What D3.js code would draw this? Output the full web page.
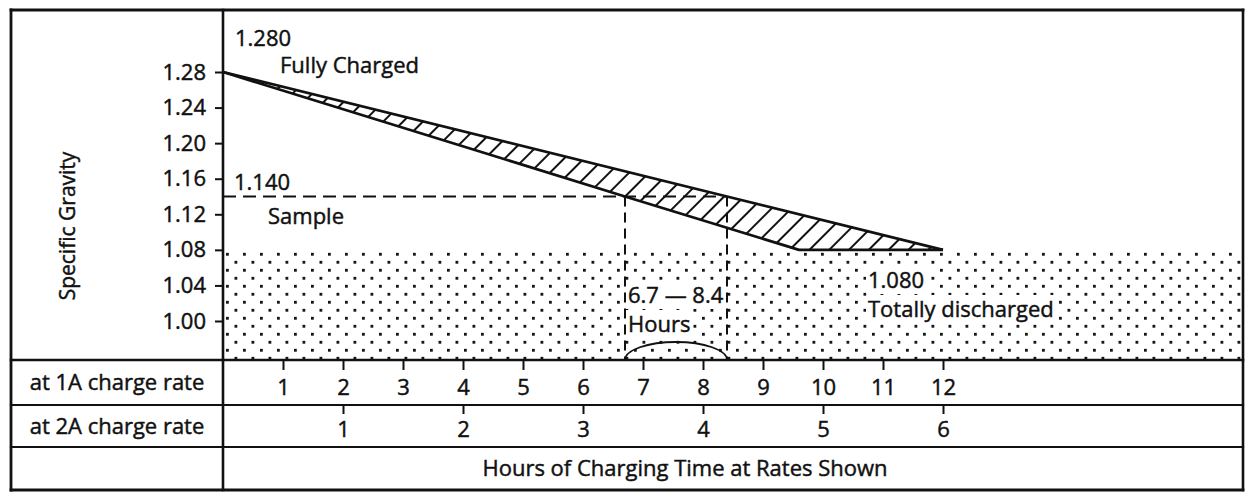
<!DOCTYPE html>
<html>
<head>
<meta charset="utf-8">
<script src="https://cdn.jsdelivr.net/npm/d3@7"></script>
<style>
  html, body { margin: 0; padding: 0; background: #fff; }
  svg { display: block; }
  text { font-family: "Open Sans", "DejaVu Sans", sans-serif; fill: #111; stroke: #111; stroke-width: 0.45px; }
</style>
</head>
<body>
<svg id="chart" width="1250" height="494"></svg>
<script>
// ---- data ----
const sgTicks = [1.00, 1.04, 1.08, 1.12, 1.16, 1.20, 1.24, 1.28];
const hours1A = [1, 2, 3, 4, 5, 6, 7, 8, 9, 10, 11, 12];
const hours2A = [1, 2, 3, 4, 5, 6];

// edges of the charging band (hours at 1A, specific gravity)
const upperHours = [0, 8.4, 12];
const upperSG    = [1.28, 1.14, 1.08];
const lowerHours = [0, 6.7, 9.6, 12];
const lowerSG    = [1.28, 1.14, 1.08, 1.08];

const fullSG = 1.28;
const emptySG = 1.08;
const sampleSG = 1.14;
const sampleHours = [6.7, 8.4];

const rowLabels = ["at 1A charge rate", "at 2A charge rate"];
const axisTitle = "Hours of Charging Time at Rates Shown";
const yTitle = "Specific Gravity";

// ---- layout ----
const W = 1250, H = 494;
const frame = { left: 11, right: 1243, top: 10, bottom: 490, divider: 223 };
const rows = { plotBottom: 360, row1Bottom: 405, row2Bottom: 447 };
const FS = 22;
const ink = "#111";

const svg = d3.select("#chart");

// scales
const x1 = d3.scaleLinear().domain([0, 17]).range([frame.divider, frame.right]);   // hours at 1A
const x2 = d3.scaleLinear().domain([0, 8.5]).range([frame.divider, frame.right]);  // hours at 2A
const y  = d3.scaleLinear().domain([1.00, 1.28]).range([321, 72]);

// ---- patterns ----
const defs = svg.append("defs");
const dots = defs.append("pattern")
  .attr("id", "dots").attr("patternUnits", "userSpaceOnUse")
  .attr("width", 17).attr("height", 16)
  .attr("x", frame.divider).attr("y", y(emptySG));
dots.append("rect").attr("x", 3).attr("y", 3).attr("width", 2.8).attr("height", 2.8).attr("fill", "#111");
dots.append("rect").attr("x", 11.5).attr("y", 11).attr("width", 2.8).attr("height", 2.8).attr("fill", "#111");

const hatch = defs.append("pattern")
  .attr("id", "hatch").attr("patternUnits", "userSpaceOnUse")
  .attr("width", 14).attr("height", 14)
  .attr("patternTransform", "rotate(45)");
hatch.append("line").attr("x1", 7).attr("y1", -1).attr("x2", 7).attr("y2", 15)
  .attr("stroke", ink).attr("stroke-width", 2);

// ---- discharged zone (stippled) ----
svg.append("rect")
  .attr("x", x1(0)).attr("y", y(emptySG))
  .attr("width", x1(17) - x1(0)).attr("height", rows.plotBottom - y(emptySG))
  .attr("fill", "url(#dots)");

// ---- charging band ----
const upperPts = upperHours.map((h, i) => [h, upperSG[i]]);
const lowerPts = lowerHours.map((h, i) => [h, lowerSG[i]]);
const line = d3.line().x(d => x1(d[0])).y(d => y(d[1]));
const bandPts = upperPts.concat(lowerPts.slice().reverse());

svg.append("path")
  .attr("d", line(bandPts) + "Z")
  .attr("fill", "#fff");
svg.append("path")
  .attr("d", line(bandPts) + "Z")
  .attr("fill", "url(#hatch)");

// sample reading: dashed level and dashed drops to the time axis
svg.append("line")
  .attr("x1", x1(0)).attr("x2", x1(sampleHours[1]))
  .attr("y1", y(sampleSG)).attr("y2", y(sampleSG))
  .attr("stroke", ink).attr("stroke-width", 2).attr("stroke-dasharray", "13,7");
sampleHours.forEach(h => {
  svg.append("line")
    .attr("x1", x1(h)).attr("x2", x1(h))
    .attr("y1", y(sampleSG)).attr("y2", rows.plotBottom)
    .attr("stroke", ink).attr("stroke-width", 2).attr("stroke-dasharray", "10,6");
});

// band edges
[upperPts, lowerPts].forEach(pts => {
  svg.append("path").attr("d", line(pts))
    .attr("fill", "none").attr("stroke", ink).attr("stroke-width", 2.8)
    .attr("stroke-linejoin", "round");
});

// arc spanning the sample time range
{
  const a = x1(sampleHours[0]), b = x1(sampleHours[1]);
  const rx = (b - a) / 2;
  svg.append("path")
    .attr("d", `M${a},${rows.plotBottom} A${rx},18 0 0 1 ${b},${rows.plotBottom}`)
    .attr("fill", "none").attr("stroke", ink).attr("stroke-width", 1.8);
}

// ---- annotations ----
const fmt3 = d3.format(".3f");
const fmt1 = d3.format(".1f");
function label(txt, x, yb, boxed) {
  const t = svg.append("text").attr("x", x).attr("y", yb)
    .attr("font-size", FS).text(txt);
  if (boxed) {
    const bb = t.node().getBBox();
    svg.insert("rect", () => t.node())
      .attr("x", bb.x - 2).attr("y", bb.y + 2)
      .attr("width", bb.width + 4).attr("height", bb.height - 2)
      .attr("fill", "#fff");
  }
  return t;
}
label(fmt3(fullSG), x1(0) + 12, 46);
label("Fully Charged", x1(0) + 57, 73);
label(fmt3(sampleSG), x1(0) + 11, 190);
label("Sample", x1(0) + 45, 224);
label(fmt1(sampleHours[0]) + " \u2014 " + fmt1(sampleHours[1]), x1(sampleHours[0]) + 3, 303, true);
label("Hours", x1(sampleHours[0]) + 3, 332, true);
label(fmt3(emptySG), x1(12) - 75, 288, true);
label("Totally discharged", x1(12) - 75, 317, true);

// ---- axes ----
const yAxis = d3.axisLeft(y).tickValues(sgTicks).tickFormat(d3.format(".2f"))
  .tickSize(8).tickPadding(9);
const gy = svg.append("g").attr("transform", `translate(${frame.divider},0)`).call(yAxis);

const ax1 = d3.axisBottom(x1).tickValues(hours1A).tickFormat(d3.format("d"))
  .tickSize(10).tickPadding(9);
const g1 = svg.append("g").attr("transform", `translate(0,${rows.plotBottom})`).call(ax1);

const ax2 = d3.axisBottom(x2).tickValues(hours2A).tickFormat(d3.format("d"))
  .tickSize(9).tickPadding(7);
const g2 = svg.append("g").attr("transform", `translate(0,${rows.row1Bottom})`).call(ax2);

[gy, g1, g2].forEach(g => {
  g.select(".domain").remove();
  g.selectAll(".tick line").attr("stroke", ink).attr("stroke-width", 2);
  g.selectAll(".tick text").attr("font-size", FS)
    .attr("font-family", "\"Open Sans\", \"DejaVu Sans\", sans-serif")
    .attr("fill", "#111").attr("stroke", "#111").attr("stroke-width", 0.45);
});

// ---- frame and table rules ----
const rule = (xa, ya, xb, yb, w) => svg.append("line")
  .attr("x1", xa).attr("y1", ya).attr("x2", xb).attr("y2", yb)
  .attr("stroke", ink).attr("stroke-width", w).attr("stroke-linecap", "square");
rule(frame.left, frame.top, frame.right, frame.top, 2.8);
rule(frame.left, frame.bottom, frame.right, frame.bottom, 2.8);
rule(frame.left, frame.top, frame.left, frame.bottom, 2.8);
rule(frame.right, frame.top, frame.right, frame.bottom, 2.6);
rule(frame.divider, frame.top, frame.divider, frame.bottom, 2.6);
rule(frame.left, rows.plotBottom, frame.right, rows.plotBottom, 2.6);
rule(frame.left, rows.row1Bottom, frame.right, rows.row1Bottom, 2.2);
rule(frame.left, rows.row2Bottom, frame.right, rows.row2Bottom, 2.2);

// row captions
const captionX = (frame.left + frame.divider) / 2;
svg.append("text").attr("x", captionX).attr("y", (rows.plotBottom + rows.row1Bottom) / 2)
  .attr("dy", "0.35em").attr("text-anchor", "middle").attr("font-size", FS).text(rowLabels[0]);
svg.append("text").attr("x", captionX).attr("y", (rows.row1Bottom + rows.row2Bottom) / 2)
  .attr("dy", "0.35em").attr("text-anchor", "middle").attr("font-size", FS).text(rowLabels[1]);

// time axis title
svg.append("text").attr("x", 685).attr("y", (rows.row2Bottom + frame.bottom) / 2)
  .attr("dy", "0.35em").attr("text-anchor", "middle").attr("font-size", FS).text(axisTitle);

// y title
svg.append("text")
  .attr("transform", `translate(68,226) rotate(-90)`)
  .attr("dy", "0.35em").attr("text-anchor", "middle").attr("font-size", FS - 1).text(yTitle);
</script>
</body>
</html>
